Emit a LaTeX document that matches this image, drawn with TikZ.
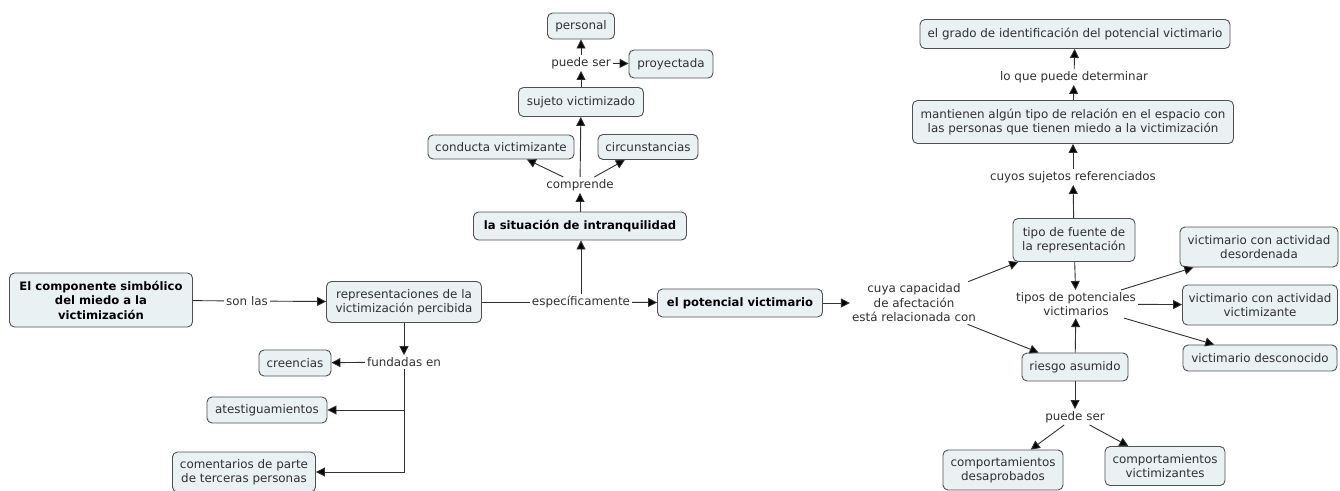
\documentclass[tikz,border=0pt]{standalone}
\usepackage{fontspec}
\setmainfont{DejaVu Sans}
\usetikzlibrary{arrows.meta}
\definecolor{boxfill}{HTML}{EAF1F3}
\definecolor{boxline}{HTML}{505050}
\definecolor{ink}{HTML}{303030}
\tikzset{
  concept/.style={draw=boxline, fill=boxfill, rounded corners=5pt, line width=0.9pt,
    align=center, inner xsep=4pt, inner ysep=3pt, minimum height=26pt,
    font=\fontsize{11.9}{14.5}\selectfont, text=ink},
  keyconcept/.style={concept, font=\fontsize{11.6}{14.5}\selectfont\bfseries, text=black},
  linkword/.style={align=center, inner sep=2pt, font=\fontsize{11.9}{14.5}\selectfont, text=ink},
  link/.style={draw=ink, line width=0.9pt},
  arr/.style={link, -{Triangle[length=9pt,width=9pt,fill=black]}}
}
\begin{document}
\begin{tikzpicture}[x=1pt,y=-1pt]
\useasboundingbox (0,0) rectangle (1340,490);

% left branch
\node[keyconcept, minimum width=183pt, minimum height=54pt] (comp) at (101,300)
  {El componente simbólico\\del miedo a la\\victimización};
\node[linkword] (sonlas) at (247,301) {son las};
\node[concept, minimum width=155pt, minimum height=41pt] (repr) at (404,302)
  {representaciones de la\\victimización percibida};
\node[linkword] (fund) at (404,362) {fundadas en};
\node[concept, minimum width=72pt] (cree) at (295,363) {creencias};
\node[concept, minimum width=120pt] (ates) at (267,410) {atestiguamientos};
\node[concept, minimum width=143pt, minimum height=40pt] (coment) at (244,472)
  {comentarios de parte\\de terceras personas};

% centre branch
\node[linkword] (espec) at (581,302) {específicamente};
\node[keyconcept, minimum width=165pt, minimum height=28pt] (poten) at (740,303) {el potencial victimario};
\node[keyconcept, minimum width=213pt, minimum height=28pt] (situ) at (580,226) {la situación de intranquilidad};
\node[linkword] (compr) at (580,185) {comprende};
\node[concept, minimum width=146pt, minimum height=24pt] (conduc) at (501,147) {conducta victimizante};
\node[concept, minimum width=100pt, minimum height=25pt] (circ) at (648,147) {circunstancias};
\node[concept, minimum width=125pt, minimum height=29pt] (sujeto) at (581,102) {sujeto victimizado};
\node[linkword] (puede1) at (581,63) {puede ser};
\node[concept, minimum width=67pt] (pers) at (581,26) {personal};
\node[concept, minimum width=84pt, minimum height=28pt] (proy) at (671,64) {proyectada};

% right branch
\node[linkword] (cuya) at (914,303) {cuya capacidad\\de afectación\\está relacionada con};
\node[concept, minimum width=122pt, minimum height=43pt] (fuente) at (1074,240) {tipo de fuente de\\la representación};
\node[linkword] (cuyos) at (1073,177) {cuyos sujetos referenciados};
\node[concept, minimum width=321pt, minimum height=43pt] (mant) at (1073,122)
  {mantienen algún tipo de relación en el espacio con\\las personas que tienen miedo a la victimización};
\node[linkword] (loque) at (1074,77) {lo que puede determinar};
\node[concept, minimum width=310pt, minimum height=29pt] (grado) at (1075,34)
  {el grado de identificación del potencial victimario};
\node[linkword] (tipos) at (1076,304) {tipos de potenciales\\victimarios};
\node[concept, minimum width=106pt, minimum height=28pt] (riesgo) at (1075,367) {riesgo asumido};
\node[concept, minimum width=158pt, minimum height=40pt] (desord) at (1259,247) {victimario con actividad\\desordenada};
\node[concept, minimum width=155pt, minimum height=40pt] (victz) at (1260,305) {victimario con actividad\\victimizante};
\node[concept, minimum width=154pt, minimum height=26pt] (desc) at (1260,358) {victimario desconocido};
\node[linkword] (puede2) at (1075,417) {puede ser};
\node[concept, minimum width=120pt, minimum height=40pt] (desap) at (1003,470) {comportamientos\\desaprobados};
\node[concept, minimum width=120pt, minimum height=39pt] (victes) at (1165,466) {comportamientos\\victimizantes};

% connectors, left
\draw[link] (comp) -- (sonlas);
\draw[arr] (sonlas) -- (repr);
\draw[arr] (fund.north |- repr.south) -- (fund.north);
\draw[arr] (fund) -- (cree);
\draw[arr] (fund.south) |- (ates);
\draw[arr] (fund.south) |- (coment);

% connectors, centre
\draw[link] (repr) -- (espec);
\draw[arr] (espec) -- (poten);
\draw[arr] (espec.north) -- (espec.north |- situ.south);
\draw[arr] (situ) -- (compr);
\draw[arr] (compr) -- (conduc);
\draw[arr] (compr) -- (circ);
\draw[arr] (compr) -- (sujeto);
\draw[arr] (sujeto) -- (puede1);
\draw[arr] (puede1) -- (pers);
\draw[arr] (puede1) -- (proy);

% connectors, right
\draw[arr] (poten) -- (cuya);
\draw[arr] (cuya) -- (fuente);
\draw[arr] (cuya) -- (riesgo);
\draw[arr] (fuente) -- (cuyos);
\draw[arr] (cuyos) -- (mant);
\draw[arr] (mant) -- (loque);
\draw[arr] (loque) -- (grado);
\draw[arr] (fuente) -- (tipos);
\draw[arr] (riesgo) -- (tipos);
\draw[arr] (tipos) -- (desord);
\draw[arr] (tipos) -- (victz);
\draw[arr] (tipos) -- (desc);
\draw[arr] (riesgo) -- (puede2);
\draw[arr] (puede2) -- (desap);
\draw[arr] (puede2) -- (victes);
\end{tikzpicture}
\end{document}
